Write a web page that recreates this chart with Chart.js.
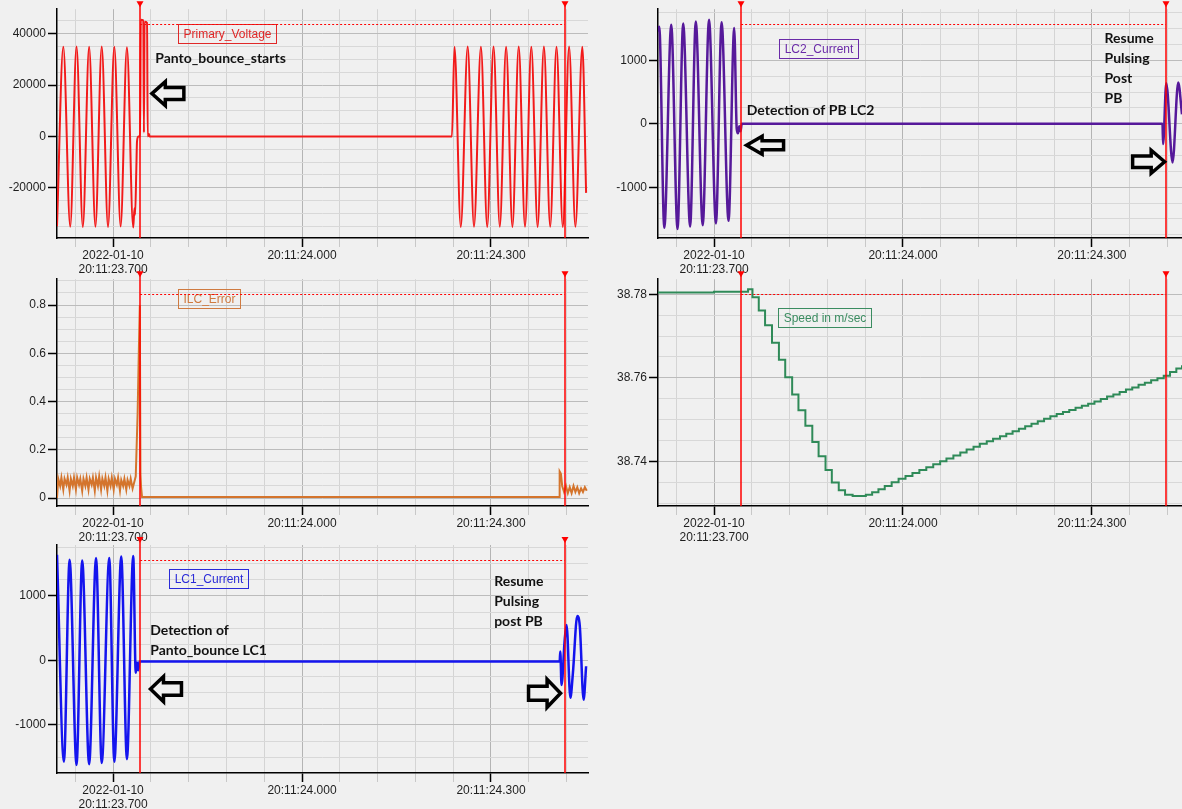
<!DOCTYPE html>
<html>
<head>
<meta charset="utf-8">
<script src="https://cdn.jsdelivr.net/npm/chart.js@4.4.1/dist/chart.umd.min.js"></script>
<style>
  html, body { margin: 0; padding: 0; background: #f0f0f0; }
  body { width: 1182px; height: 809px; position: relative; overflow: hidden; }
  canvas { position: absolute; }
</style>
</head>
<body>
<canvas id="pVolt" width="600" height="280" style="left:0;top:0"></canvas>
<canvas id="pLc2" width="582" height="280" style="left:600px;top:0"></canvas>
<canvas id="pIlc" width="600" height="275" style="left:0;top:270px"></canvas>
<canvas id="pSpeed" width="582" height="275" style="left:600px;top:270px"></canvas>
<canvas id="pLc1" width="600" height="279" style="left:0;top:530px"></canvas>
<script>
// time axis: milliseconds after 20:11:23.000
const xTicks = [640, 700, 760, 820, 880, 940, 1000, 1060, 1120, 1180, 1240, 1300, 1360, 1420];
const xTickLabels = { 700: ['2022-01-10', '20:11:23.700'], 1000: '20:11:24.000', 1300: '20:11:24.300' };
const cursorTimes = [743, 1417];

const voltTime = [611, 621, 632, 642, 652, 662, 672, 682, 692, 702, 712, 722, 732, 734, 735, 737, 738, 740,
  743, 744, 748, 749, 750, 754, 755, 757, 758, 1238, 1242, 1252, 1263, 1273, 1284, 1294, 1304, 1314,
  1324, 1334, 1344, 1354, 1364, 1374, 1384, 1394, 1404, 1414, 1424, 1434, 1445, 1451];
const voltValue = [-35000, 35000, -35200, 35100, -35300, 35000, -35200, 35100, -35300, 35000, -35100, 34800,
  -35500, -28000, -30500, -12000, -2000, 0, 0, 45500, 45300, 1500, 44700, 44300, 0, 900, 0, 0, 35000,
  -35300, 35100, -35200, 35000, -35300, 35100, -35200, 35000, -35300, 35100, -35200, 35000, -35300,
  35100, -35200, 35000, -35300, 35100, -35200, 35000, -22000];
const voltMajor = [-20000, 0, 20000, 40000];

const lc2Time = [611, 613, 621, 632, 642, 651, 662, 671, 682, 692, 703, 712, 723, 732, 736, 738, 740, 742, 744,
  1412, 1413, 1418, 1428, 1437, 1443];
const lc2Value = [1450, 1530, -1640, 1560, -1660, 1580, -1620, 1610, -1600, 1640, -1570, 1600, -1530, 1510,
  -80, -150, -40, -120, 0, 0, -320, 640, -610, 650, 150];
const ampMajor = [-1000, 0, 1000];

const ilcTime = [611, 613, 616, 618, 621, 623, 626, 628, 631, 633, 636, 638, 641, 643, 646, 648, 651, 653, 656,
  658, 661, 663, 666, 668, 671, 673, 676, 678, 681, 683, 686, 688, 691, 693, 696, 698, 701, 703, 706, 708,
  711, 713, 716, 718, 721, 723, 726, 728, 731, 734, 736, 739, 741, 742.5, 743.5, 744.5, 746, 1408, 1409,
  1411, 1413, 1416, 1419, 1422, 1425, 1428, 1431, 1434, 1437, 1440, 1443, 1446, 1449, 1452];
const ilcValue = [0.0, 0.08, 0.05, 0.085, 0.035, 0.08, 0.055, 0.085, 0.03, 0.08, 0.05, 0.085, 0.035, 0.085, 0.055,
  0.08, 0.03, 0.08, 0.05, 0.085, 0.035, 0.08, 0.055, 0.085, 0.03, 0.085, 0.05, 0.09, 0.035, 0.08, 0.05, 0.085,
  0.03, 0.08, 0.05, 0.085, 0.035, 0.08, 0.055, 0.085, 0.03, 0.075, 0.05, 0.08, 0.035, 0.075, 0.05, 0.08, 0.04,
  0.07, 0.09, 0.35, 0.62, 0.8, 0.1, 0.045, 0.004, 0.004, 0.11, 0.1, 0.05, 0.025, 0.05, 0.02, 0.045, 0.02,
  0.05, 0.025, 0.045, 0.02, 0.04, 0.025, 0.045, 0.03];
const ilcMajor = [0, 0.2, 0.4, 0.6, 0.8];

const speedTime = [611, 700, 754, 761, 771, 781, 792, 803, 813, 824, 834, 845, 856, 866, 877, 887, 898, 908, 920,
  941, 951, 961, 971, 982, 993, 1004, 1015, 1026, 1037, 1048, 1059, 1069, 1080, 1091, 1101, 1112, 1122,
  1133, 1143, 1154, 1164, 1174, 1184, 1194, 1204, 1214, 1224, 1234, 1244, 1254, 1264, 1274, 1284, 1294,
  1304, 1314, 1324, 1334, 1344, 1354, 1364, 1374, 1384, 1394, 1404, 1414, 1424, 1434, 1443];
const speedValue = [38.7804, 38.7806, 38.7812, 38.7793, 38.7761, 38.7726, 38.7684, 38.7643, 38.7601, 38.7560,
  38.7522, 38.7485, 38.7446, 38.7412, 38.7379, 38.7349, 38.7331, 38.7320, 38.7317, 38.7320, 38.7326,
  38.7333, 38.7341, 38.7350, 38.7358, 38.7365, 38.7372, 38.7379, 38.7386, 38.7393, 38.7400, 38.7407,
  38.7414, 38.7421, 38.7428, 38.7435, 38.7442, 38.7448, 38.7454, 38.7460, 38.7466, 38.7472, 38.7478,
  38.7484, 38.7490, 38.7496, 38.7502, 38.7508, 38.7513, 38.7518, 38.7523, 38.7528, 38.7533, 38.7538,
  38.7543, 38.7549, 38.7555, 38.7560, 38.7566, 38.7572, 38.7577, 38.7583, 38.7588, 38.7594, 38.7599,
  38.7605, 38.7614, 38.7622, 38.7630];
const speedMajor = [38.74, 38.76, 38.78];

const lc1Time = [611, 622, 631, 642, 651, 662, 673, 682, 694, 702, 713, 722, 732, 736, 738, 740, 742,
  1409, 1410, 1412, 1417, 1420, 1426, 1430, 1437, 1441, 1447, 1451];
const lc1Value = [1640, -1570, 1560, -1620, 1550, -1610, 1590, -1590, 1590, -1570, 1610, -1530, 1620, -190,
  -30, -150, -15, -15, 140, -380, 320, 550, -580, -200, 690, 530, -610, -90];

const tickFont = { family: '"Liberation Sans", Arial, sans-serif', size: 12 };
const noteFont = 'bold 14px Lato, "DejaVu Sans", sans-serif';
const boxFont = '12px "Liberation Sans", Arial, sans-serif';
const cursorColor = '#ff0000';

function points(ts, vs) {
  return ts.map((t, i) => ({ x: t, y: vs[i] }));
}

function near(a, b, step) {
  return Math.abs(a - b) < step / 100;
}

function drawArrow(ctx, cx, cy, w, h, dir) {
  const head = w * 0.42, sh = h * 0.5;
  const tip = cx + dir * w / 2, base = tip - dir * head, tail = cx - dir * w / 2;
  ctx.beginPath();
  ctx.moveTo(tip, cy);
  ctx.lineTo(base, cy - h / 2);
  ctx.lineTo(base, cy - sh / 2);
  ctx.lineTo(tail, cy - sh / 2);
  ctx.lineTo(tail, cy + sh / 2);
  ctx.lineTo(base, cy + sh / 2);
  ctx.lineTo(base, cy + h / 2);
  ctx.closePath();
  ctx.fillStyle = '#f0f0f0';
  ctx.fill();
  ctx.lineWidth = 3.5;
  ctx.lineJoin = 'miter';
  ctx.strokeStyle = '#000';
  ctx.stroke();
}

function overlay(cfg) {
  return {
    id: 'overlay',
    beforeDatasetsDraw(chart) {
      const { ctx, scales: { x, y } } = chart;
      ctx.save();
      const b = cfg.box;
      ctx.font = boxFont;
      const w = Math.round(ctx.measureText(b.text).width + 10), h = 19;
      const bx = Math.round(x.getPixelForValue(b.t) - w / 2) + 0.5;
      const by = Math.round(y.getPixelForValue(b.v) - h / 2) + 0.5;
      ctx.strokeStyle = b.color;
      ctx.lineWidth = 1;
      ctx.strokeRect(bx, by, w, h);
      ctx.fillStyle = b.color;
      ctx.textAlign = 'center';
      ctx.textBaseline = 'middle';
      ctx.fillText(b.text, bx + w / 2, by + h / 2 + 0.5);

      const ty = Math.round(y.getPixelForValue(cfg.threshold)) + 0.5;
      ctx.setLineDash([2, 2]);
      ctx.strokeStyle = cursorColor;
      ctx.beginPath();
      ctx.moveTo(x.getPixelForValue(cursorTimes[0]), ty);
      ctx.lineTo(x.getPixelForValue(cursorTimes[1]), ty);
      ctx.stroke();
      ctx.restore();
    },
    afterDatasetsDraw(chart) {
      const { ctx, chartArea: a, scales: { x, y } } = chart;
      ctx.save();
      cursorTimes.forEach(t => {
        const px = Math.round(x.getPixelForValue(t));
        ctx.fillStyle = cursorColor;
        ctx.fillRect(px - 0.75, a.top - 5, 1.5, a.bottom - a.top + 5);
        ctx.beginPath();
        ctx.moveTo(px - 3.5, a.top - 8);
        ctx.lineTo(px + 3.5, a.top - 8);
        ctx.lineTo(px, a.top - 2);
        ctx.closePath();
        ctx.fill();
      });
      (cfg.notes || []).forEach(n => {
        ctx.font = noteFont;
        ctx.fillStyle = '#111';
        ctx.textAlign = 'left';
        ctx.textBaseline = 'middle';
        const nx = x.getPixelForValue(n.t), ny = y.getPixelForValue(n.v);
        n.lines.forEach((line, i) => ctx.fillText(line, nx, ny + i * 20));
      });
      (cfg.arrows || []).forEach(ar => {
        drawArrow(ctx, x.getPixelForValue(ar.t), y.getPixelForValue(ar.v), ar.w, ar.h, ar.dir);
      });
      ctx.restore();
    }
  };
}

function makePanel(id, p) {
  const yTickList = [];
  for (let k = Math.ceil(p.yMin / p.step - 1e-9); k * p.step <= p.yMax + 1e-9; k++) {
    yTickList.push(+(k * p.step).toFixed(6));
  }
  const isMajorY = v => p.majors.some(m => near(m, v, p.step));
  const isMajorX = v => xTickLabels[v] !== undefined;

  return new Chart(document.getElementById(id), {
    type: 'line',
    data: {
      datasets: [{
        data: points(p.time, p.value),
        borderColor: p.color,
        borderWidth: p.width || 2,
        pointRadius: 0,
        fill: false,
        stepped: p.stepped || false,
        cubicInterpolationMode: p.smooth ? 'monotone' : 'default'
      }]
    },
    options: {
      responsive: false,
      animation: false,
      devicePixelRatio: 1,
      layout: { padding: { left: 0, right: p.padRight, top: p.padTop, bottom: 0 } },
      scales: {
        x: {
          type: 'linear',
          min: 611,
          max: p.xMax,
          afterBuildTicks: s => { s.ticks = xTicks.map(v => ({ value: v })); },
          afterFit: s => { s.height = p.xHeight; },
          ticks: {
            autoSkip: false,
            maxRotation: 0,
            padding: 1,
            font: tickFont,
            color: '#1e1e1e',
            callback: v => xTickLabels[v] ?? ''
          },
          grid: {
            color: c => (c.tick && isMajorX(c.tick.value)) ? '#b4b4b4' : '#d4d4d4',
            tickColor: c => (c.tick && isMajorX(c.tick.value)) ? '#000' : '#c8c8c8',
            tickWidth: c => (c.tick && isMajorX(c.tick.value)) ? 1.5 : 1,
            tickLength: 9
          },
          border: { color: '#000', width: 1.5 }
        },
        y: {
          type: 'linear',
          min: p.yMin,
          max: p.yMax,
          afterBuildTicks: s => { s.ticks = yTickList.map(v => ({ value: v })); },
          afterFit: s => { s.width = p.yWidth; },
          ticks: {
            autoSkip: false,
            padding: 2,
            font: tickFont,
            color: '#1e1e1e',
            callback: v => isMajorY(v) ? p.fmt(v) : ''
          },
          grid: {
            color: c => (c.tick && isMajorY(c.tick.value)) ? '#bcbcbc' : '#d8d8d8',
            tickColor: c => (c.tick && isMajorY(c.tick.value)) ? '#000' : 'rgba(0,0,0,0)',
            tickWidth: 1.5,
            tickLength: 9
          },
          border: { color: '#000', width: 1.5 }
        }
      },
      plugins: { legend: { display: false }, tooltip: { enabled: false } }
    },
    plugins: [overlay(p.overlay)]
  });
}

function renderAll() {
  makePanel('pVolt', {
    time: voltTime, value: voltValue, color: '#f21a1a', smooth: true,
    xMax: 1454, yMin: -39600, yMax: 49600, step: 5000, majors: voltMajor, fmt: v => String(v),
    yWidth: 57, xHeight: 42, padTop: 8, padRight: 12,
    overlay: {
      threshold: 43900,
      box: { t: 881, v: 40200, text: 'Primary_Voltage', color: '#e02828' },
      notes: [{ t: 767, v: 30300, lines: ['Panto_bounce_starts'] }],
      arrows: [{ t: 787, v: 16700, w: 32, h: 24, dir: -1 }]
    }
  });

  makePanel('pLc2', {
    time: lc2Time, value: lc2Value, color: '#56199a', smooth: true, width: 2.5,
    xMax: 1443, yMin: -1800, yMax: 1805, step: 250, majors: ampMajor, fmt: v => String(v),
    yWidth: 58, xHeight: 42, padTop: 8, padRight: 0,
    overlay: {
      threshold: 1570,
      box: { t: 866, v: 1190, text: 'LC2_Current', color: '#6a2aa8' },
      notes: [
        { t: 752, v: 209, lines: ['Detection of PB LC2'] },
        { t: 1320, v: 1339, lines: ['Resume', 'Pulsing', 'Post', 'PB'] }
      ],
      arrows: [
        { t: 781, v: -340, w: 37, h: 18, dir: -1 },
        { t: 1390, v: -599, w: 32, h: 23, dir: 1 }
      ]
    }
  });

  makePanel('pIlc', {
    time: ilcTime, value: ilcValue, color: '#d4742c', smooth: false,
    xMax: 1454, yMin: -0.033, yMax: 0.907, step: 0.05, majors: ilcMajor,
    fmt: v => (v === 0 ? '0' : String(+v.toFixed(1))),
    yWidth: 57, xHeight: 39, padTop: 7, padRight: 12,
    overlay: {
      threshold: 0.844,
      box: { t: 853, v: 0.829, text: 'ILC_Error', color: '#cf7a40' }
    }
  });

  makePanel('pSpeed', {
    time: speedTime, value: speedValue, color: '#2f8a58', smooth: false, stepped: 'before',
    xMax: 1443, yMin: 38.7293, yMax: 38.7836, step: 0.005, majors: speedMajor, fmt: v => v.toFixed(2),
    yWidth: 58, xHeight: 39, padTop: 7, padRight: 0,
    overlay: {
      threshold: 38.78,
      box: { t: 876, v: 38.7745, text: 'Speed in m/sec', color: '#3a8c60' }
    }
  });

  makePanel('pLc1', {
    time: lc1Time, value: lc1Value, color: '#1414ee', smooth: true, width: 2.5,
    xMax: 1454, yMin: -1745, yMax: 1790, step: 250, majors: ampMajor, fmt: v => String(v),
    yWidth: 57, xHeight: 36, padTop: 15, padRight: 12,
    overlay: {
      threshold: 1556,
      box: { t: 851, v: 1278, text: 'LC1_Current', color: '#2a2ad8' },
      notes: [
        { t: 759, v: 472, lines: ['Detection of', 'Panto_bounce LC1'] },
        { t: 1305, v: 1221, lines: ['Resume', 'Pulsing', 'post PB'] }
      ],
      arrows: [
        { t: 784, v: -443, w: 31, h: 25, dir: -1 },
        { t: 1385, v: -509, w: 32, h: 28, dir: 1 }
      ]
    }
  });
}

Promise.all([
  document.fonts.load(noteFont),
  document.fonts.load(boxFont)
]).then(renderAll, renderAll);
</script>
</body>
</html>
